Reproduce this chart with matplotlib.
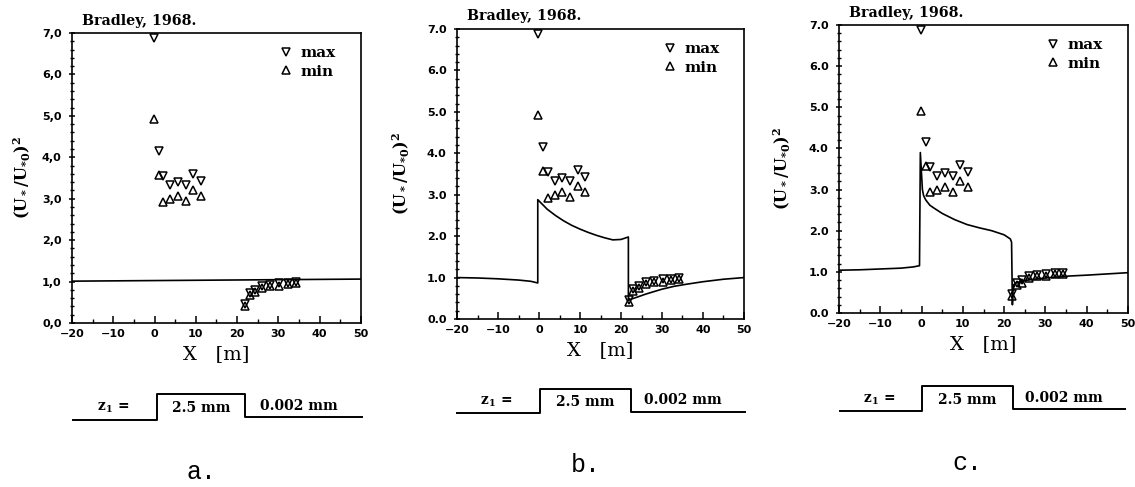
import matplotlib
matplotlib.use("Agg")
import matplotlib.pyplot as plt
from matplotlib.lines import Line2D
from matplotlib.ticker import MultipleLocator, FuncFormatter

plt.rcParams["mathtext.default"] = "regular"

# observations (Bradley, 1968), same in all three panels
obs_x = [-0.2, 1.0, 2.1, 3.8, 5.7, 7.5, 9.4, 11.2]
obs_max = [6.88, 4.15, 3.56, 3.32, 3.40, 3.32, 3.59, 3.42]
obs_min = [4.92, 3.57, 2.93, 3.00, 3.07, 2.94, 3.21, 3.06]

down_x = [22.0, 23.0, 24.3, 26.0, 28.0, 30.2, 32.2, 34.2]
down_max = [0.47, 0.72, 0.80, 0.90, 0.92, 0.96, 0.97, 0.98]
down_min = [0.42, 0.68, 0.74, 0.84, 0.89, 0.89, 0.94, 0.96]

# model curves
curve_a_x = [-20, 50]
curve_a_y = [1.01, 1.06]

curve_b_x = [-20, -15, -10, -5, -2, -0.3, -0.3, 1, 2, 4, 6, 8, 10, 12, 14, 16, 18, 20, 21.8,
             21.8, 22.2, 24, 26, 28, 30, 33, 36, 40, 45, 50]
curve_b_y = [1.0, 0.99, 0.97, 0.94, 0.91, 0.87, 2.88, 2.75, 2.65, 2.50, 2.37, 2.26, 2.17, 2.09,
             2.02, 1.96, 1.91, 1.92, 1.98, 0.45, 0.47, 0.53, 0.60, 0.66, 0.72, 0.79, 0.84, 0.90,
             0.96, 1.0]

curve_c_x = [-20, -15, -10, -5, -2, -0.5, -0.3, 0.2, 0.5, 1, 2, 3, 5, 8, 11, 14, 17, 20, 21.5,
             21.8, 22.0, 22.2, 23, 25, 28, 32, 36, 40, 45, 50]
curve_c_y = [1.04, 1.05, 1.07, 1.09, 1.12, 1.15, 3.90, 3.00, 2.85, 2.75, 2.62, 2.55, 2.42, 2.27,
             2.15, 2.07, 2.00, 1.90, 1.80, 1.72, 0.20, 0.68, 0.74, 0.79, 0.83, 0.87, 0.90, 0.92,
             0.95, 0.98]

curves = [(curve_a_x, curve_a_y), (curve_b_x, curve_b_y), (curve_c_x, curve_c_y)]
panel_names = ["a.", "b.", "c."]
roughness = ["2.5 mm", "0.002 mm"]

W, H = 1135, 487
fig = plt.figure(figsize=(W / 100, H / 100), dpi=100)

# axes boxes in pixels: left, top, right, bottom
boxes = [(72, 33, 361, 323), (457, 29, 744, 319), (839, 25, 1128, 313)]
seps = [",", ".", "."]
ylab_x = [-0.135, -0.158, -0.159]

serif = "DejaVu Serif"
for i, (l, t, r, b) in enumerate(boxes):
    ax = fig.add_axes([l / W, 1 - b / H, (r - l) / W, (b - t) / H])
    cx, cy = curves[i]
    ax.plot(cx, cy, color="black", lw=1.2)
    mk = dict(ls="none", mfc="none", mec="black", ms=5.5, mew=1.1)
    ax.plot(obs_x + down_x, obs_max + down_max, marker="v", **mk)
    ax.plot(obs_x + down_x, obs_min + down_min, marker="^", **mk)

    ax.set_xlim(-20, 50)
    ax.set_ylim(0, 7)
    ax.xaxis.set_major_locator(MultipleLocator(10))
    ax.xaxis.set_minor_locator(MultipleLocator(5))
    ax.yaxis.set_major_locator(MultipleLocator(1))
    ax.yaxis.set_minor_locator(MultipleLocator(0.2))
    sep = seps[i]
    ax.yaxis.set_major_formatter(FuncFormatter(lambda v, p, s=sep: f"{v:.1f}".replace(".", s)))
    ax.xaxis.set_major_formatter(FuncFormatter(lambda v, p: f"{v:.0f}".replace("-", "\u2212")))
    ax.tick_params(axis="x", which="both", direction="in", pad=4, labelsize=8)
    ax.tick_params(axis="y", which="both", direction="inout", pad=5, labelsize=8)
    ax.tick_params(which="major", length=5, width=1.1)
    ax.tick_params(which="minor", length=3, width=1.0)
    for lab in ax.get_xticklabels() + ax.get_yticklabels():
        lab.set_fontweight("bold")
    for sp in ax.spines.values():
        sp.set_linewidth(1.2)

    ax.set_xlabel("X   [m]", family=serif, fontsize=14)
    ax.xaxis.set_label_coords(0.5, -0.075)
    ax.set_ylabel("(U$_*$/U$_{*0}$)$^2$", family=serif, fontsize=11.5, fontweight="bold")
    ax.yaxis.set_label_coords(ylab_x[i], 0.5)

    ax.annotate("Bradley, 1968.", xy=(0, 1), xycoords="axes fraction", xytext=(7, 9),
                textcoords="offset points", ha="left", va="center",
                family=serif, fontweight="bold", fontsize=10.3)

    handles = [Line2D([], [], marker="v", label="max", **mk),
               Line2D([], [], marker="^", label="min", **mk)]
    ax.legend(handles=handles, loc="upper left", bbox_to_anchor=(0.72, 0.955), frameon=False,
              handlelength=0.8, handletextpad=0.55, labelspacing=0.3, borderpad=0,
              borderaxespad=0, prop=dict(family=serif, weight="bold", size=11))

# roughness-step sketches under each panel
sk = fig.add_axes([0, 0, 1, 1], zorder=-1)
sk.set_xlim(0, W)
sk.set_ylim(H, 0)
sk.axis("off")
steps = [(73, 157, 245, 362, 420, 394, 417),
         (457, 540, 631, 745, 413, 389, 412),
         (840, 922, 1013, 1125, 411, 386, 409)]
for i, (x0, xu, xd, x1, yl, yh, yr) in enumerate(steps):
    sk.plot([x0, xu, xu, xd, xd, x1], [yl, yl, yh, yh, yr, yr], color="black", lw=1.4)
    ymid = (yl + yh) / 2 + 1
    sk.text((x0 + xu) / 2 - 2, ymid, "z$_1$ =", ha="center", va="center",
            family=serif, fontweight="bold", fontsize=10)
    sk.text((xu + xd) / 2, ymid, roughness[0], ha="center", va="center",
            family=serif, fontweight="bold", fontsize=10)
    sk.text((xd + x1) / 2 - 5, ymid - 2, roughness[1], ha="center", va="center",
            family=serif, fontweight="bold", fontsize=10)
    sk.text((xu + xd) / 2, yl + 52, panel_names[i], ha="center", va="center",
            family="Liberation Mono", fontsize=18)

fig.savefig("out.png", dpi=100)
